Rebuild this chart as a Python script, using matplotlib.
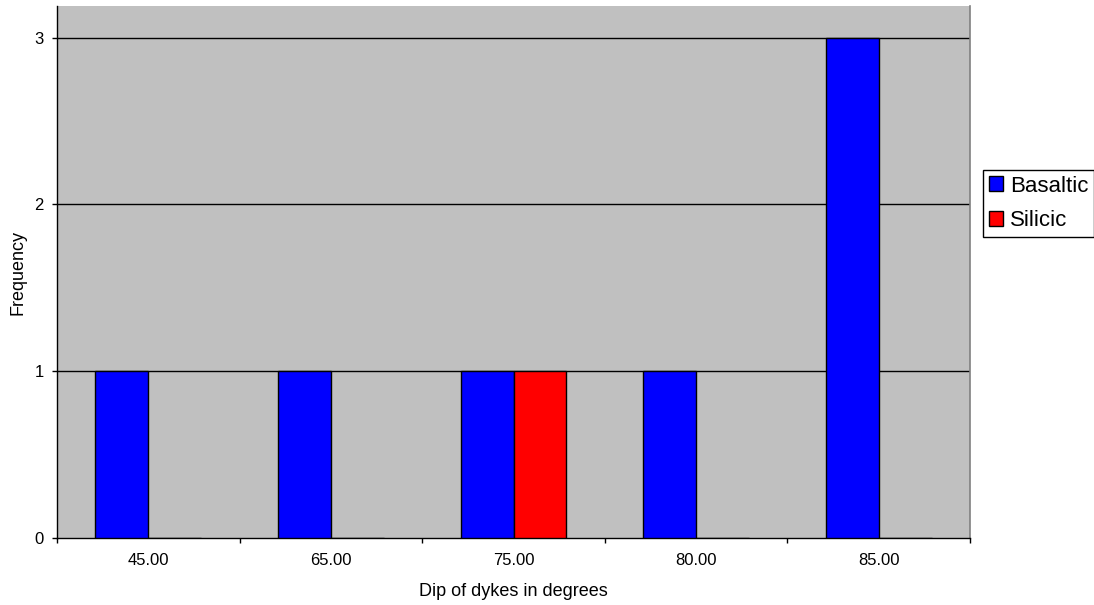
import numpy as np
import matplotlib.pyplot as plt
from matplotlib.patches import Patch

plt.rcParams['font.family'] = ['Liberation Sans', 'DejaVu Sans']

dips = ['45.00', '65.00', '75.00', '80.00', '85.00']
basaltic = [1, 1, 1, 1, 3]
silicic = [0, 0, 1, 0, 0]

fig = plt.figure(figsize=(10.94, 6.05), dpi=100)
ax = fig.add_axes([0.0521, 0.1107, 0.8346, 0.8793])
ax.set_facecolor('#C0C0C0')

x = np.arange(len(dips))
w = 0.29
ax.bar(x - w / 2, basaltic, w, color='#0000FF', edgecolor='black', linewidth=1.0, zorder=3)
ax.bar(x + w / 2, silicic, w, color='#FF0000', edgecolor='black', linewidth=1.0, zorder=3)

ax.set_xlim(-0.5, len(dips) - 0.5)
ax.set_ylim(0, 3.19)
ax.set_yticks([0, 1, 2, 3])
for yv in [1, 2, 3]:
    ax.axhline(yv, color='black', linewidth=1.0, zorder=1)

# category labels sit between the tick marks
ax.set_xticks(np.arange(len(dips) + 1) - 0.5)
ax.set_xticklabels([])
ax.set_xticks(x, minor=True)
ax.set_xticklabels(dips, minor=True)
ax.tick_params(axis='x', which='minor', length=0, pad=11, labelsize=12)
ax.tick_params(axis='x', which='major', length=3.6, direction='out', width=1)
ax.tick_params(axis='y', length=3.6, direction='out', width=1, labelsize=12, pad=6)

ax.spines['top'].set_visible(False)
ax.spines['right'].set_color('#808080')
ax.spines['right'].set_linewidth(1.2)
ax.spines['left'].set_linewidth(1.0)
ax.spines['bottom'].set_linewidth(1.0)

ax.set_xlabel('Dip of dykes in degrees', fontsize=13, va='top')
ax.xaxis.set_label_coords(0.5, -0.085)
ax.set_ylabel('Frequency', fontsize=13)
ax.yaxis.set_label_coords(-0.033, 0.5)

handles = [Patch(facecolor='#0000FF', edgecolor='black', label='Basaltic'),
           Patch(facecolor='#FF0000', edgecolor='black', label='Silicic')]
leg = fig.legend(handles=handles, loc='upper left', bbox_to_anchor=(0.8985, 0.719),
                 fontsize=16, handlelength=0.65, handleheight=0.65, handletextpad=0.3,
                 borderpad=0.25, labelspacing=0.62, fancybox=False, framealpha=1,
                 edgecolor='black', borderaxespad=0)
leg.get_frame().set_linewidth(1.0)

fig.savefig('out.png', dpi=100)
